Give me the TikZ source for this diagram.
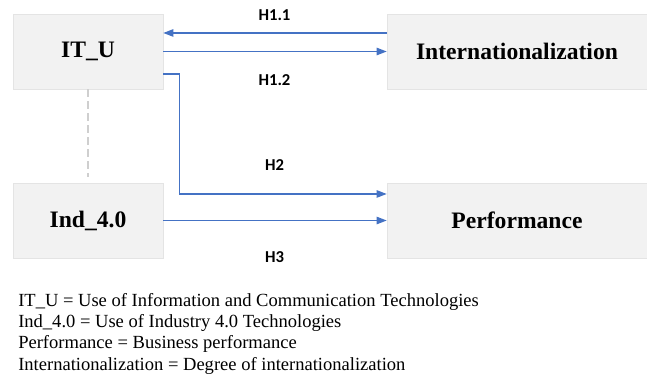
\documentclass[tikz,border=0pt]{standalone}
\usepackage{fontspec}
\setmainfont{Liberation Serif}
\newfontfamily\labelfont{Carlito}
\usetikzlibrary{positioning,calc,arrows.meta}

\definecolor{boxfill}{HTML}{F2F2F2}
\definecolor{boxline}{HTML}{E4E4E4}
\definecolor{dashgray}{HTML}{CFCFCF}
\definecolor{arrowblue}{HTML}{4472C4}

\tikzset{
    varbox/.style={draw=boxline, fill=boxfill, minimum height=56.25pt, inner sep=0pt,
        font=\fontsize{17.7}{20}\selectfont\bfseries},
    hyp/.style={draw=arrowblue, line width=1pt, -{Triangle[length=7.5pt,width=5.5pt]}},
    hyplabel/.style={font=\labelfont\fontsize{12.5}{14}\selectfont\bfseries}
}

\begin{document}
\begin{tikzpicture}[x=0.75pt, y=-0.75pt]
    \useasboundingbox (0,0) rectangle (647,376);

    % Variables
    \node[varbox, minimum width=112.5pt] (itu) at (88,51.5) {IT\_U};
    \node[varbox, minimum width=112.5pt] (ind) at (88,220.5) {Ind\_4.0};
    \node[varbox, minimum width=195pt] (intl) at (517,51.5) {Internationalization};
    \node[varbox, minimum width=195pt] (perf) at (517,220.5) {Performance};

    % Hypotheses
    \draw[hyp] ([yshift=13.9pt]intl.west) -- ([yshift=13.9pt]itu.east);
    \draw[hyp] (itu.east) -- (intl.west);
    \draw[hyp] ([yshift=-16.9pt]itu.east) -| ++(16,0) |- ([yshift=19.9pt]perf.west);
    \draw[hyp] (ind.east) -- (perf.west);
    \draw[dashgray, line width=0.9pt, dash pattern=on 5.5pt off 3.5pt, shorten >=4pt] (itu.south) -- (ind.north);

    \node[hyplabel] (h11) at (274.5,15) {H1.1};
    \node[hyplabel] (h12) at (274.5,80.5) {H1.2};
    \node[hyplabel] (h2) at (274.5,165) {H2};
    \node[hyplabel] (h3) at (274.5,257) {H3};

    % Legend
    \node[anchor=north west, align=left, inner sep=0pt,
        font=\fontsize{13.9}{16}\selectfont] (legend) at (18,293) {%
        IT\_U = Use of Information and Communication Technologies\\
        Ind\_4.0 = Use of Industry 4.0 Technologies\\
        Performance = Business performance\\
        Internationalization = Degree of internationalization};
\end{tikzpicture}
\end{document}
